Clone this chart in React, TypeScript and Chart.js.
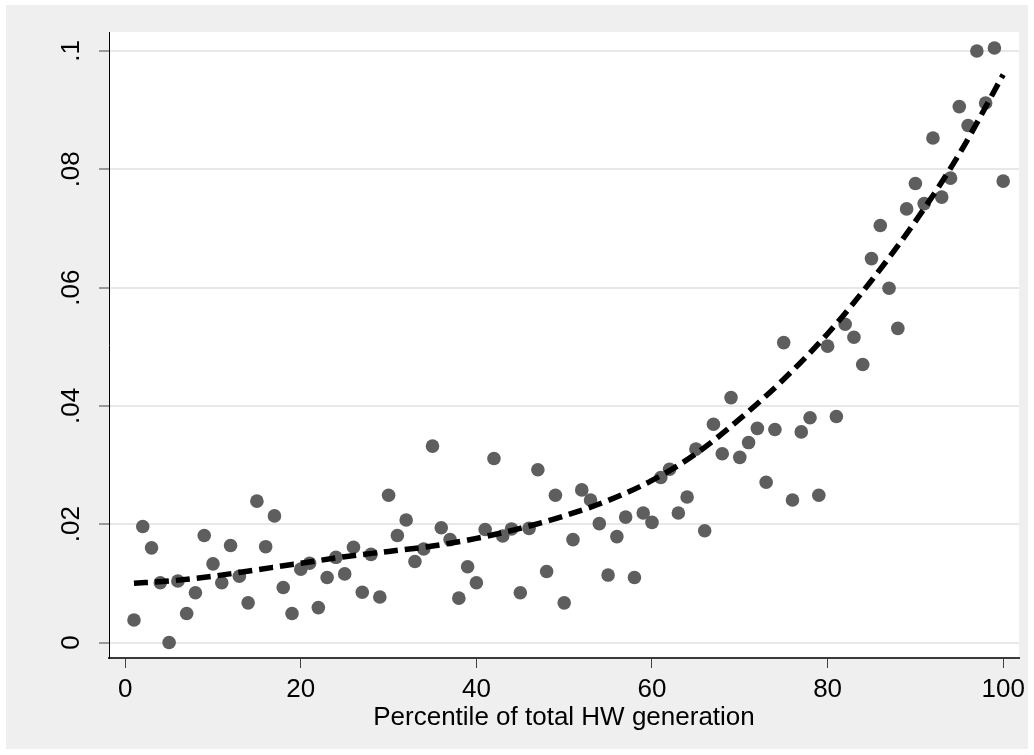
import { useEffect, useRef } from 'react';
import { Chart, registerables } from 'chart.js';

Chart.register(...registerables);

const percentiles = [
  1, 2, 3, 4, 5, 6, 7, 8, 9, 10, 11, 12, 13, 14, 15, 16, 17, 18, 19, 20,
  21, 22, 23, 24, 25, 26, 27, 28, 29, 30, 31, 32, 33, 34, 35, 36, 37, 38, 39, 40,
  41, 42, 43, 44, 45, 46, 47, 48, 49, 50, 51, 52, 53, 54, 55, 56, 57, 58, 59, 60,
  61, 62, 63, 64, 65, 66, 67, 68, 69, 70, 71, 72, 73, 74, 75, 76, 77, 78, 79, 80,
  81, 82, 83, 84, 85, 86, 87, 88, 89, 90, 91, 92, 93, 94, 95, 96, 97, 98, 99, 100,
];

const shares = [
  0.0038, 0.0196, 0.0160, 0.0101, 0.0000, 0.0104, 0.0049, 0.0084, 0.0181, 0.0133,
  0.0101, 0.0164, 0.0112, 0.0067, 0.0239, 0.0162, 0.0214, 0.0093, 0.0049, 0.0124,
  0.0134, 0.0059, 0.0110, 0.0144, 0.0116, 0.0161, 0.0085, 0.0149, 0.0077, 0.0249,
  0.0181, 0.0207, 0.0137, 0.0158, 0.0332, 0.0194, 0.0174, 0.0075, 0.0128, 0.0101,
  0.0191, 0.0311, 0.0180, 0.0192, 0.0084, 0.0193, 0.0292, 0.0120, 0.0249, 0.0067,
  0.0174, 0.0258, 0.0241, 0.0201, 0.0114, 0.0179, 0.0212, 0.0110, 0.0219, 0.0203,
  0.0279, 0.0293, 0.0219, 0.0246, 0.0327, 0.0189, 0.0369, 0.0319, 0.0414, 0.0313,
  0.0338, 0.0362, 0.0271, 0.0360, 0.0507, 0.0241, 0.0356, 0.0380, 0.0249, 0.0501,
  0.0382, 0.0538, 0.0516, 0.0470, 0.0649, 0.0705, 0.0599, 0.0531, 0.0733, 0.0776,
  0.0742, 0.0853, 0.0753, 0.0785, 0.0906, 0.0874, 0.1000, 0.0912, 0.1005, 0.0780,
];

const fitX = [1, 5, 10, 15, 20, 25, 30, 35, 40, 45, 50, 55, 60, 65, 70, 75, 80, 85, 90, 95, 100];
const fitY = [
  0.0100, 0.0104, 0.0112, 0.0123, 0.0134, 0.0145, 0.0154, 0.0163, 0.0176, 0.0193,
  0.0214, 0.0240, 0.0274, 0.0319, 0.0378, 0.0445, 0.0522, 0.0612, 0.0712, 0.0826, 0.0960,
];

const xTickValues = [0, 20, 40, 60, 80, 100];
const xTickLabels = ['0', '20', '40', '60', '80', '100'];
const yTickValues = [0, 0.02, 0.04, 0.06, 0.08, 0.1];
const yTickLabels = ['0', '.02', '.04', '.06', '.08', '.1'];
const xTitle = 'Percentile of total HW generation';

const FONT = '"Liberation Sans", Arial, Helvetica, sans-serif';
const FONT_SIZE = 26;

const backgroundPlugin = {
  id: 'stataBackground',
  beforeDraw(chart: any) {
    const { ctx, chartArea, width, height } = chart;
    ctx.save();
    ctx.fillStyle = '#ffffff';
    ctx.fillRect(0, 0, width, height);
    ctx.fillStyle = '#efefef';
    ctx.fillRect(6, 5, 1022, 744);
    ctx.fillStyle = '#ffffff';
    ctx.fillRect(chartArea.left, chartArea.top, chartArea.right - chartArea.left, chartArea.bottom - chartArea.top);
    ctx.restore();
  },
};

const yLabelPlugin = {
  id: 'rotatedYLabels',
  afterDraw(chart: any) {
    const { ctx } = chart;
    const yScale = chart.scales.y;
    ctx.save();
    ctx.fillStyle = '#000000';
    ctx.font = `${FONT_SIZE}px ${FONT}`;
    ctx.textAlign = 'center';
    ctx.textBaseline = 'middle';
    yTickValues.forEach((v, i) => {
      const py = yScale.getPixelForValue(v);
      ctx.save();
      ctx.translate(72, py);
      ctx.rotate(-Math.PI / 2);
      ctx.fillText(yTickLabels[i], 0, 0);
      ctx.restore();
    });
    ctx.restore();
  },
};

export default function App() {
  const canvasRef = useRef<HTMLCanvasElement | null>(null);

  useEffect(() => {
    const canvas = canvasRef.current;
    if (!canvas) return;
    const chart = new Chart(canvas, {
      type: 'scatter',
      data: {
        datasets: [
          {
            type: 'line',
            label: 'Fitted',
            data: fitX.map((x, i) => ({ x, y: fitY[i] })),
            borderColor: '#000000',
            borderWidth: 5.5,
            borderDash: [14, 7],
            borderCapStyle: 'butt',
            pointRadius: 0,
            fill: false,
            cubicInterpolationMode: 'monotone',
          } as any,
          {
            type: 'scatter',
            label: 'Share',
            data: percentiles.map((x, i) => ({ x, y: shares[i] })),
            backgroundColor: '#5e5e5e',
            borderWidth: 0,
            pointRadius: 6.8,
            pointHoverRadius: 6.8,
          },
        ],
      },
      options: {
        responsive: false,
        animation: false,
        devicePixelRatio: 1,
        layout: { padding: { left: 99, right: 15, top: 32, bottom: 24 } },
        plugins: {
          legend: { display: false },
          tooltip: { enabled: false },
          title: { display: false },
        },
        scales: {
          x: {
            type: 'linear',
            min: -1.845,
            max: 101.8,
            afterBuildTicks: (axis: any) => {
              axis.ticks = xTickValues.map((v) => ({ value: v }));
            },
            ticks: {
              color: '#000000',
              font: { family: FONT, size: FONT_SIZE, lineHeight: 1.2 },
              padding: 6.4,
              maxRotation: 0,
              minRotation: 0,
              autoSkip: false,
              callback: (value: any) => {
                const idx = xTickValues.indexOf(Number(value));
                return idx >= 0 ? xTickLabels[idx] : '';
              },
            },
            grid: {
              drawOnChartArea: false,
              drawTicks: true,
              tickLength: 10,
              tickColor: '#444444',
              tickWidth: 1,
            },
            border: { display: true, color: '#3a3a3a', width: 2 },
            title: {
              display: true,
              text: xTitle,
              color: '#000000',
              font: { family: FONT, size: FONT_SIZE, lineHeight: 1.0 },
              padding: { top: -7, bottom: 0 },
            },
          },
          y: {
            type: 'linear',
            min: -0.00262,
            max: 0.10321,
            afterBuildTicks: (axis: any) => {
              axis.ticks = yTickValues.map((v) => ({ value: v }));
            },
            ticks: { display: false },
            grid: {
              color: '#e8e8e8',
              lineWidth: 2,
              drawTicks: true,
              tickLength: 10,
              tickColor: '#444444',
              tickWidth: 1,
            },
            border: { display: true, color: '#000000', width: 1 },
          },
        },
      },
      plugins: [backgroundPlugin, yLabelPlugin],
    });
    return () => chart.destroy();
  }, []);

  return (
    <div style={{ position: 'absolute', left: 0, top: 0, width: 1034, height: 755 }}>
      <canvas ref={canvasRef} width={1034} height={755} style={{ display: 'block' }} />
    </div>
  );
}
